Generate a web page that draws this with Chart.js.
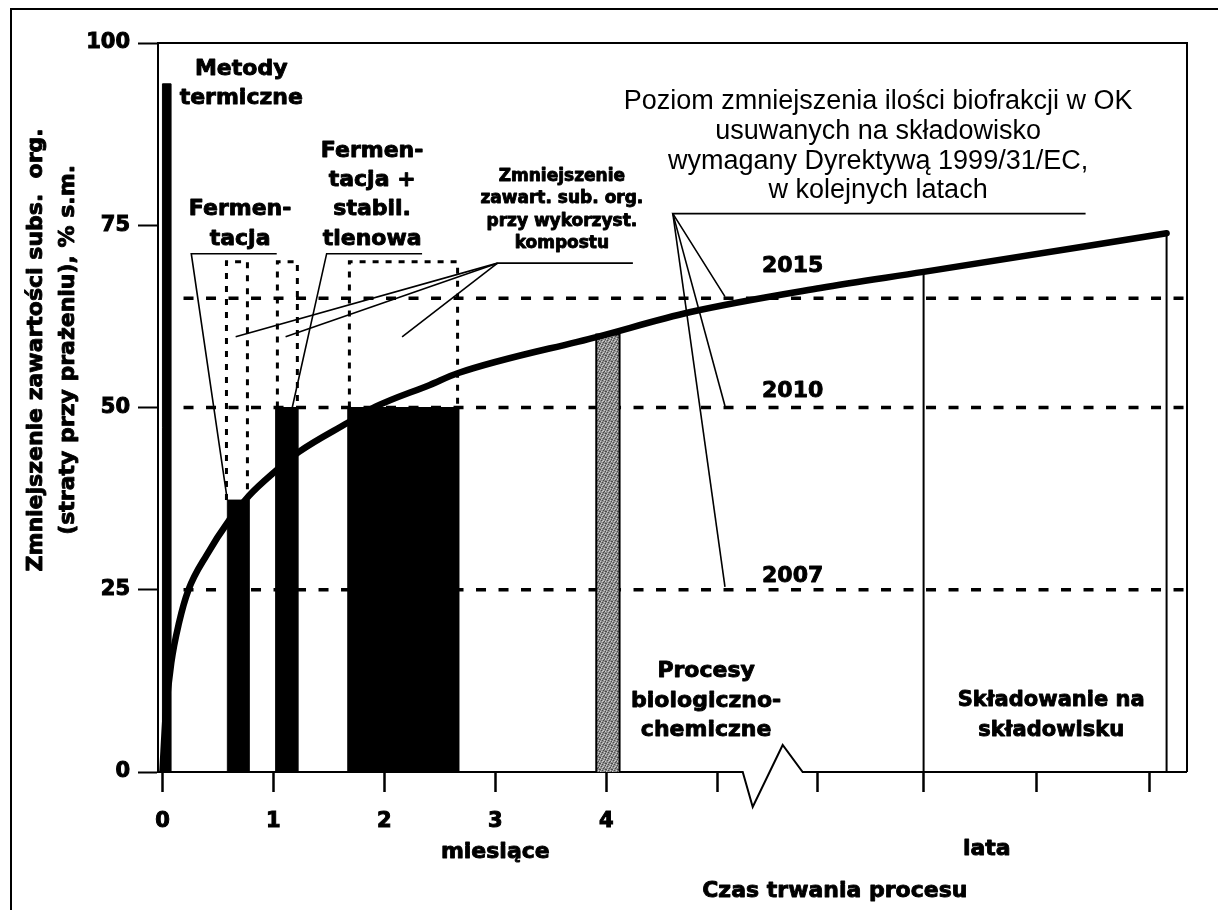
<!DOCTYPE html>
<html>
<head>
<meta charset="utf-8">
<script src="https://cdn.jsdelivr.net/npm/chart.js@4.4.1/dist/chart.umd.min.js"></script>
<style>
  body { margin: 0; background: #fff; }
  #wrap { width: 1218px; height: 910px; position: relative; }
</style>
</head>
<body>
<div id="wrap"><canvas id="chart"></canvas></div>
<script>
// DANE

const xTickValues = [0, 1, 2, 3, 4, 5, 5.9, 6.86, 7.88, 8.9];
const xTickLabels = ['0', '1', '2', '3', '4', '', '', '', '', ''];
const yTickValues = [0, 25, 50, 75, 100];

// krzywa zmniejszenia zawartosci subst. org.
const curveX = [0, 0.03, 0.08, 0.15, 0.235, 0.4, 0.6, 0.78, 1.02, 1.23, 1.67, 1.92, 2.41, 2.66, 3.92, 4.76, 5.93, 6.86, 9.05];
const curveY = [0, 8, 15, 20.5, 25, 29.8, 34.5, 37.9, 41.3, 43.9, 47.9, 50.1, 53.1, 54.7, 59.7, 63.1, 66.4, 68.6, 73.9];

// slupki: metody termiczne, fermentacja, ferm.+stabil., kompost, procesy biol.-chem.
const barFrom = [0.0, 0.585, 1.02, 1.67, 3.91];
const barTo = [0.075, 0.78, 1.22, 2.67, 4.12];
const barTop = [94.4, 37.3, 50, 50, 60];

// prostokaty kropkowane (kompost)
const rectFrom = [0.577, 1.036, 1.685];
const rectTo = [0.766, 1.216, 2.66];
const rectBase = [37.3, 50, 50];
const rectTop = 70;

// poziomy z Dyrektywy
const levelValues = [25, 50, 65];
const levelYears = ['2007', '2010', '2015'];
const levelStart = 0.19;
const yearLabelY = [26.1, 51.4, 68.6];
const yearLabelX = 5.68;

// pionowe linie (lata)
const stemX = [6.86, 9.05];
const stemTop = [68.6, 73.9];

// przerwanie osi x
const breakX = [5.23, 5.32, 5.59, 5.77];
const breakY = [0, -4.8, 3.7, 0];

// linie odniesienia
const leaders = [
  [[0.585, 37.3], [0.26, 71.1], [1.03, 71.1]],
  [[1.17, 50], [1.48, 71.1], [2.34, 71.1]],
  [[0.66, 59.7], [3.02, 69.8], [4.24, 69.8]],
  [[1.11, 59.7], [3.02, 69.8]],
  [[2.16, 59.7], [3.02, 69.8]],
  [[5.07, 65.2], [4.6, 76.6], [8.32, 76.6]],
  [[5.07, 50.2], [4.6, 76.6]],
  [[5.07, 25.4], [4.6, 76.6]]
];

const X_MIN = -0.04;
const X_MAX = 9.234;

// OPISY

const BOLD = 'DejaVu Sans';
const notes = [
  { text: ['Metody', 'termiczne'], x: 0.71, y: 95.6, size: 22, lh: 29 },
  { text: ['Fermen-', 'tacja'], x: 0.70, y: 76.4, size: 22, lh: 30 },
  { text: ['Fermen-', 'tacja +', 'stabil.', 'tlenowa'], x: 1.89, y: 84.4, size: 22, lh: 29.3 },
  { text: ['Zmniejszenie', 'zawart. sub. org.', 'przy wykorzyst.', 'kompostu'], x: 3.6, y: 81.1, size: 17, lh: 22.5 },
  { text: ['Poziom zmniejszenia ilości biofrakcji w OK', 'usuwanych na składowisko', 'wymagany Dyrektywą 1999/31/EC,', 'w kolejnych latach'], x: 6.45, y: 90.9, size: 27, lh: 29.7, regular: true },
  { text: ['Procesy', 'biologiczno-', 'chemiczne'], x: 4.9, y: 13.0, size: 22, lh: 29.5 },
  { text: ['Składowanie na', 'składowisku'], x: 8.01, y: 9.05, size: 21, lh: 30 },
  { text: ['miesiące'], x: 3.0, y: -11.8, size: 22, lh: 0 },
  { text: ['lata'], x: 7.43, y: -11.4, size: 22, lh: 0 },
  { text: ['Czas trwania procesu'], x: 6.06, y: -17.2, size: 22, lh: 0 }
];
levelYears.forEach((yr, i) => {
  notes.push({ text: [yr], x: yearLabelX, y: yearLabelY[i], size: 22, lh: 0 });
});

const yTitle = ['Zmniejszenie zawartości subs.  org.', '(straty przy prażeniu), % s.m.'];

// POMOCNICZE

const canvas = document.getElementById('chart');
const ctx = canvas.getContext('2d');

function pts(arr){
  return arr.map(p => ({ x: p[0], y: p[1] }));
}

function lineSet(points, opts){
  return Object.assign({
    data: pts(points),
    borderColor: '#000',
    borderWidth: 2,
    pointRadius: 0,
    fill: false,
    tension: 0
  }, opts);
}

// tekstura szara (deterministyczna)
function greyPattern(){
  const c = document.createElement('canvas');
  c.width = 6; c.height = 6;
  const g = c.getContext('2d');
  g.fillStyle = '#8e8e8e';
  g.fillRect(0, 0, 6, 6);
  g.fillStyle = '#4a4a4a';
  [[0,1],[3,0],[5,3],[1,4],[4,5],[2,2],[5,1]].forEach(p => g.fillRect(p[0], p[1], 1, 1));
  g.fillStyle = '#cfcfcf';
  [[1,1],[4,2],[0,3],[3,4],[5,5],[2,5]].forEach(p => g.fillRect(p[0], p[1], 1, 1));
  return ctx.createPattern(c, 'repeat');
}

// DATASETY

const datasets = [];

// krzywa
datasets.push(lineSet(curveX.map((x, i) => [x, curveY[i]]), {
  borderWidth: 6.5,
  cubicInterpolationMode: 'monotone',
  borderCapStyle: 'round',
  borderJoinStyle: 'round',
  order: 0
}));

// slupki
const grey = greyPattern();
barFrom.forEach((x0, i) => {
  const x1 = barTo[i];
  const h = barTop[i];
  const isGrey = i === barFrom.length - 1;
  datasets.push(lineSet([[x0, 0], [x0, h], [x1, h], [x1, 0]], {
    fill: 'origin',
    backgroundColor: isGrey ? grey : '#000',
    borderWidth: isGrey ? 2 : 1,
    order: 1
  }));
});

// pionowe linie
stemX.forEach((x, i) => {
  datasets.push(lineSet([[x, 0], [x, stemTop[i]]], { borderWidth: 2, order: 2 }));
});

// linie odniesienia
leaders.forEach(l => {
  datasets.push(lineSet(l, { borderWidth: 1.6, order: 3 }));
});

// prostokaty kropkowane
rectFrom.forEach((x0, i) => {
  datasets.push(lineSet([[x0, rectBase[i]], [x0, rectTop], [rectTo[i], rectTop], [rectTo[i], rectBase[i]]], {
    borderWidth: 3,
    borderDash: [6, 7],
    order: 4
  }));
});

// poziomy 2007, 2010, 2015
levelValues.forEach(v => {
  datasets.push(lineSet([[levelStart, v], [X_MAX, v]], {
    borderWidth: 3.5,
    borderDash: [10, 12.5],
    order: 5
  }));
});

// os x z przerwaniem
datasets.push(lineSet([[X_MIN, 0]].concat(breakX.map((x, i) => [x, breakY[i]])).concat([[X_MAX, 0]]), {
  borderWidth: 2,
  clip: false,
  order: 6
}));

// PLUGINY

const pageFrame = {
  id: 'pageFrame',
  beforeDraw(chart){
    const c = chart.ctx;
    c.save();
    c.fillStyle = '#fff';
    c.fillRect(0, 0, chart.width, chart.height);
    c.strokeStyle = '#000';
    c.lineWidth = 2;
    c.beginPath();
    c.moveTo(chart.width, 9);
    c.lineTo(11, 9);
    c.lineTo(11, chart.height);
    c.stroke();
    c.restore();
  }
};

const plotFrame = {
  id: 'plotFrame',
  afterDatasetsDraw(chart){
    const a = chart.chartArea;
    const c = chart.ctx;
    c.save();
    c.strokeStyle = '#000';
    c.lineWidth = 2;
    c.beginPath();
    c.moveTo(a.left, a.top);
    c.lineTo(a.right, a.top);
    c.lineTo(a.right, a.bottom);
    c.stroke();
    c.restore();
  }
};

const notesPlugin = {
  id: 'notes',
  afterDraw(chart){
    const c = chart.ctx;
    const xs = chart.scales.x;
    const ys = chart.scales.y;
    c.save();
    c.fillStyle = '#000';
    c.strokeStyle = '#000';
    c.lineJoin = 'round';
    c.textAlign = 'center';
    c.textBaseline = 'alphabetic';

    notes.forEach(n => {
      c.font = n.regular
        ? `${n.size}px "Liberation Sans"`
        : `bold ${n.size}px "${BOLD}"`;
      c.lineWidth = n.regular ? 0 : 0.9;
      const px = xs.getPixelForValue(n.x);
      const py = ys.getPixelForValue(n.y);
      n.text.forEach((t, i) => {
        c.fillText(t, px, py + i * n.lh);
        if(!n.regular) c.strokeText(t, px, py + i * n.lh);
      });
    });

    // tytul osi y
    c.font = `bold 22px "${BOLD}"`;
    c.lineWidth = 0.9;
    const cy = ys.getPixelForValue(57.9);
    [42, 74].forEach((bx, i) => {
      c.save();
      c.translate(bx, cy);
      c.rotate(-Math.PI / 2);
      c.fillText(yTitle[i], 0, 0);
      c.strokeText(yTitle[i], 0, 0);
      c.restore();
    });

    c.restore();
  }
};

// WYKRES

const tickFont = { family: BOLD, size: 21, weight: 'bold' };

const chart = new Chart(canvas, {
  type: 'line',
  data: { datasets },
  options: {
    responsive: true,
    maintainAspectRatio: false,
    animation: false,
    events: [],
    layout: { padding: { top: 43, right: 31, left: 0, bottom: 0 } },
    plugins: {
      legend: { display: false },
      tooltip: { enabled: false }
    },
    scales: {
      x: {
        type: 'linear',
        min: X_MIN,
        max: X_MAX,
        afterFit: s => { s.height = 138; },
        afterBuildTicks: s => { s.ticks = xTickValues.map(v => ({ value: v })); },
        ticks: {
          autoSkip: false,
          maxRotation: 0,
          padding: 17,
          color: '#000',
          textStrokeColor: '#000',
          textStrokeWidth: 1,
          font: tickFont,
          callback: (v, i) => xTickLabels[i]
        },
        grid: {
          drawOnChartArea: false,
          drawTicks: true,
          tickLength: 20,
          tickWidth: 2.5,
          tickColor: '#000'
        },
        border: { display: false }
      },
      y: {
        type: 'linear',
        min: 0,
        max: 100,
        afterFit: s => { s.width = 158; },
        afterBuildTicks: s => { s.ticks = yTickValues.map(v => ({ value: v })); },
        ticks: {
          padding: 8,
          color: '#000',
          textStrokeColor: '#000',
          textStrokeWidth: 1,
          font: tickFont
        },
        grid: {
          drawOnChartArea: false,
          drawTicks: true,
          tickLength: 20,
          tickWidth: 2,
          tickColor: '#000'
        },
        border: { display: true, color: '#000', width: 2 }
      }
    }
  },
  plugins: [pageFrame, plotFrame, notesPlugin]
});
</script>
</body>
</html>
